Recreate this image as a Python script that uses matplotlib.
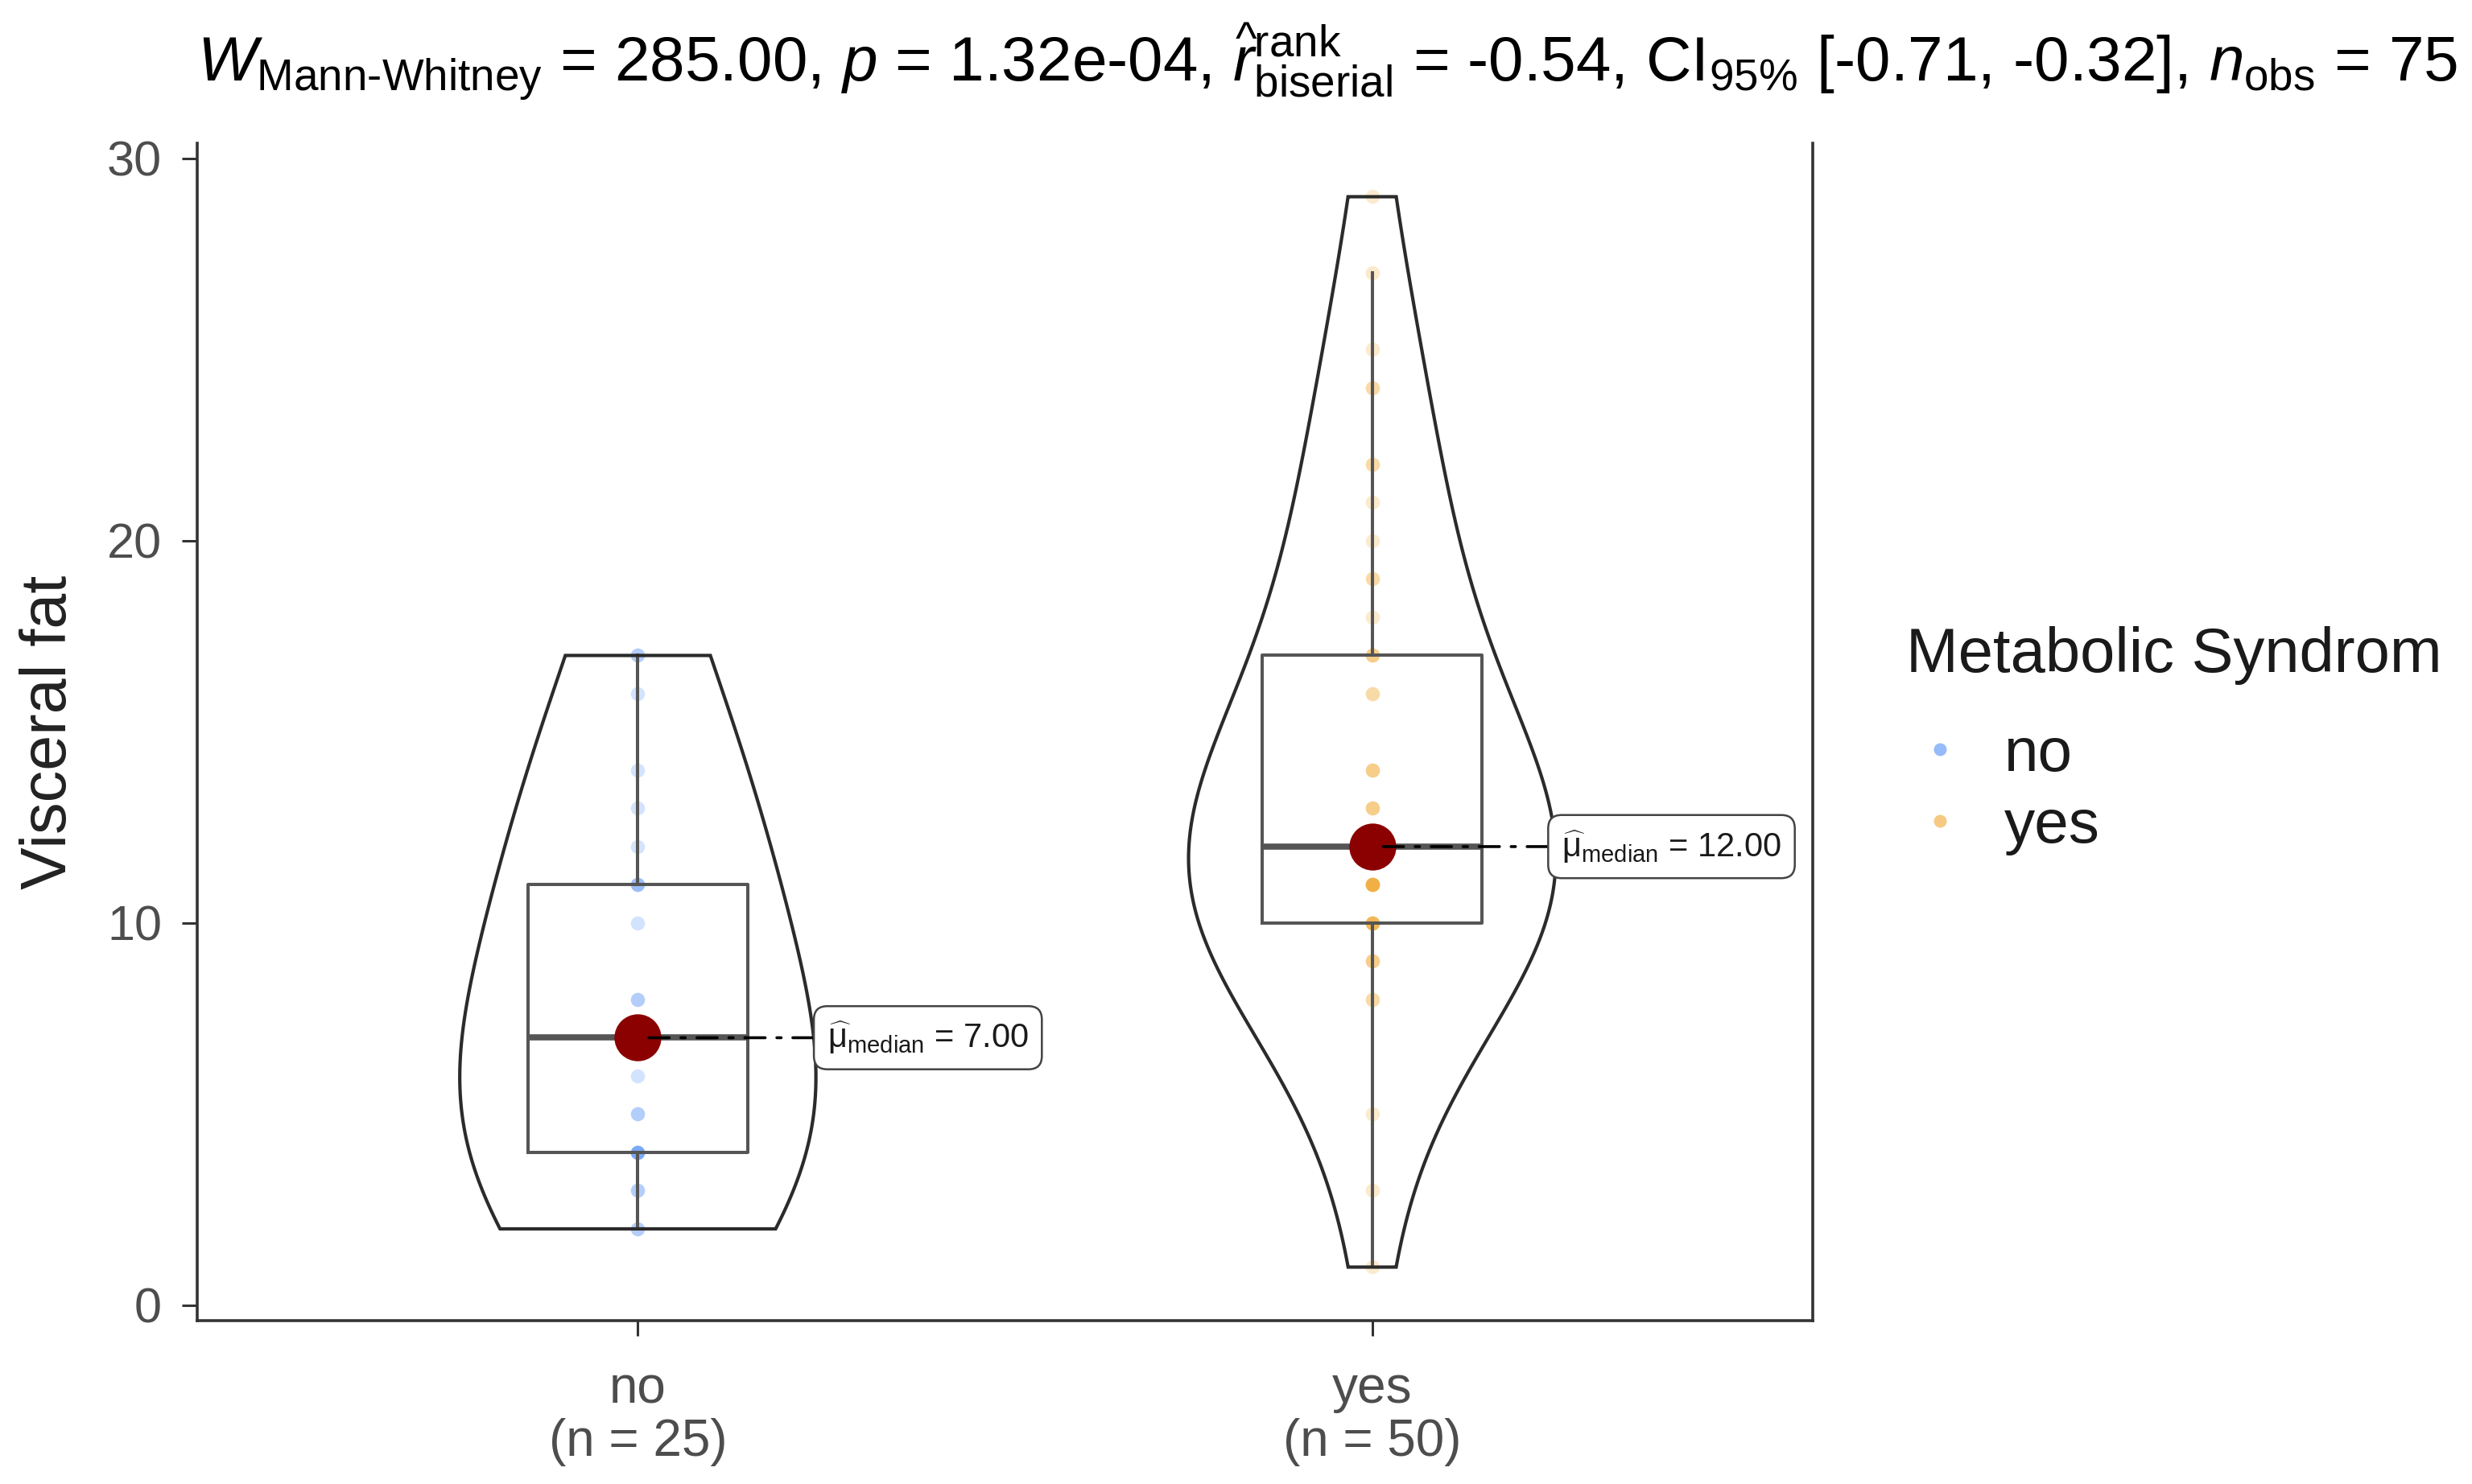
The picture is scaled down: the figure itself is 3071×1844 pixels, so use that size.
import numpy as np
import matplotlib
matplotlib.use('Agg')
import matplotlib.pyplot as plt
from matplotlib.lines import Line2D

plt.rcParams['font.family'] = ['Liberation Sans', 'DejaVu Sans']
plt.rcParams['mathtext.fontset'] = 'custom'
plt.rcParams['mathtext.rm'] = 'Liberation Sans'
plt.rcParams['mathtext.it'] = 'Liberation Sans:italic'
plt.rcParams['mathtext.bf'] = 'Liberation Sans:bold'
plt.rcParams['mathtext.sf'] = 'Liberation Sans'

# ---------------- data ----------------
groups = ['no', 'yes']
group_colors = ['#4f8ef7', '#f0a830']
no_values = [2, 2, 3, 3, 4, 4, 4, 4, 4, 5, 5, 6, 7, 8, 8, 10, 11, 11, 11,
             12, 13, 14, 16, 17, 17]
yes_values = [1, 3, 5, 8, 8, 9, 9, 9, 10, 10, 10, 10, 10, 10,
              11, 11, 11, 11, 11, 11, 11, 11, 12, 12, 12, 12, 12,
              13, 13, 13, 14, 14, 14, 16, 16, 17, 17, 17, 18, 19, 19,
              20, 21, 22, 22, 24, 24, 25, 27, 29]
y_ticks = [0, 10, 20, 30]
y_label = 'Visceral fat'
legend_title = 'Metabolic Syndrom'
title_text = (r'$\mathit{W}_{\text{Mann-Whitney}}$ = 285.00, $\mathit{p}$ = 1.32e-04, '
              r'$\widehat{\mathit{r}}_{\mathrm{biserial}}^{\mathrm{rank}}$ = -0.54, '
              r'CI$_{95\%}$ [-0.71, -0.32], $\mathit{n}_{\mathrm{obs}}$ = 75')

data = [np.asarray(no_values, float), np.asarray(yes_values, float)]
bw_adjust = 1.8


def nrd0(x):
    sd = x.std(ddof=1)
    q75, q25 = np.percentile(x, [75, 25])
    lo = min(sd, (q75 - q25) / 1.34)
    return 0.9 * lo * len(x) ** -0.2


def kde(x, grid, bw):
    z = (grid[:, None] - x[None, :]) / bw
    return np.exp(-0.5 * z ** 2).sum(1) / (len(x) * bw * np.sqrt(2 * np.pi))


fig = plt.figure(figsize=(30.71, 18.44), dpi=100)
ax = fig.add_axes([0.0798, 0.1101, 0.6535, 0.7934])

positions = np.arange(1, len(groups) + 1)

# points
for pos, vals, col in zip(positions, data, group_colors):
    ax.scatter(np.full(len(vals), pos), vals, s=160, color=col, alpha=0.24,
               linewidths=0, zorder=2)

# boxplot
box_col = '#555555'
ax.boxplot(data, positions=positions, widths=0.3, showfliers=False,
           showcaps=False, manage_ticks=False,
           boxprops=dict(color=box_col, lw=2.9),
           whiskerprops=dict(color=box_col, lw=2.9),
           medianprops=dict(color=box_col, lw=5.5), zorder=3)

# violins (scale = area, width 0.5)
dens_list = []
for vals in data:
    grid = np.linspace(vals.min(), vals.max(), 512)
    dens_list.append((grid, kde(vals, grid, bw_adjust * nrd0(vals))))
gmax = max(d.max() for _, d in dens_list)
for pos, (grid, d) in zip(positions, dens_list):
    half = 0.25 * d / gmax
    xs = np.concatenate([pos - half, (pos + half)[::-1]])
    ys = np.concatenate([grid, grid[::-1]])
    ax.fill(xs, ys, facecolor='none', edgecolor='#2b2b2b', lw=3.0, zorder=4)

# medians + labels
label_off = 0.258
for pos, vals in zip(positions, data):
    m = np.median(vals)
    ax.scatter([pos], [m], s=42 ** 2, color='#8B0000', zorder=5, linewidths=0)
    ax.annotate(r'$\widehat{\mathrm{\mu}}_{\mathrm{median}}$' + f' = {m:.2f}',
                xy=(pos, m), xytext=(pos + label_off, m), textcoords='data',
                fontsize=30, ha='left', va='center', color='#1a1a1a',
                bbox=dict(boxstyle='round,pad=0.4,rounding_size=0.4',
                          fc='white', ec='#444444', lw=1.8),
                arrowprops=dict(arrowstyle='-', color='black', lw=2.6,
                                linestyle=(0, (7, 4, 1.5, 4)),
                                shrinkA=0, shrinkB=0),
                zorder=6)

# axes styling
ax.set_xlim(0.4, 2.6)
ax.set_ylim(-0.4, 30.4)
ax.set_yticks(y_ticks)
ax.set_xticks(positions)
ax.set_xticklabels([f'{g}\n(n = {len(v)})' for g, v in zip(groups, data)],
                   linespacing=1.12)
ax.tick_params(axis='both', length=13.7, width=2.2, color='#333333',
               labelsize=44, labelcolor='#4D4D4D', pad=18)
ax.tick_params(axis='x', pad=26, labelsize=46)
for side in ['left', 'bottom', 'right']:
    ax.spines[side].set_linewidth(2.6)
    ax.spines[side].set_color('#333333')
ax.spines['top'].set_visible(False)

ax.set_ylabel(y_label, fontsize=57, color='#222222', va='center')
ax.yaxis.set_label_coords(-0.0917, 0.5)

ax.set_title(title_text, loc='left', fontsize=56.3, pad=55, color='black')

# legend
handles = [Line2D([], [], ls='none', marker='o', markersize=11.5,
                  markerfacecolor=c, markeredgewidth=0, alpha=0.6)
           for c in group_colors]
leg = ax.legend(handles, groups, title=legend_title, loc='upper left',
                bbox_to_anchor=(0.7711, 0.578), bbox_transform=fig.transFigure,
                frameon=False, fontsize=55, title_fontsize=56, borderpad=0,
                labelspacing=0.24, handlelength=1.1, handletextpad=0.5,
                alignment='left', borderaxespad=0)
for t in leg.get_texts():
    t.set_color('#1a1a1a')
leg.get_title().set_color('#1a1a1a')
leg._legend_box.sep = 37

fig.savefig('out.png', dpi=100)
